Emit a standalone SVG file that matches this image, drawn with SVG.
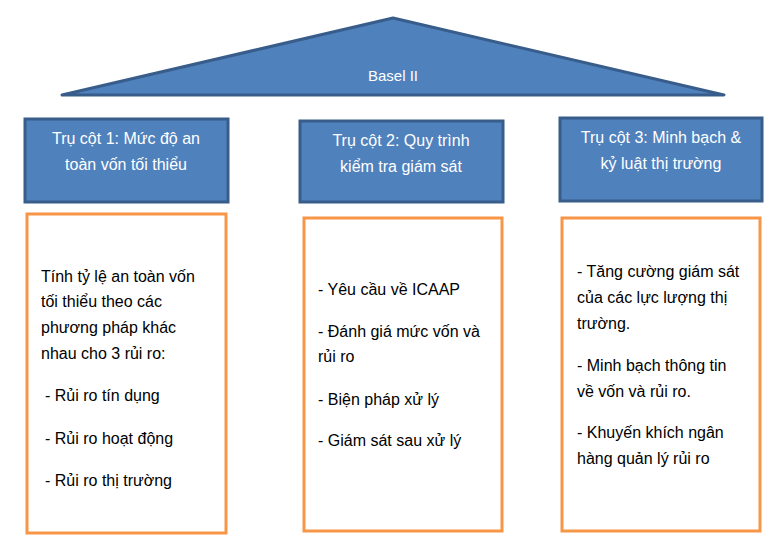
<svg xmlns="http://www.w3.org/2000/svg" width="779" height="552" viewBox="0 0 779 552">
<style>
.roof{fill:#4F81BD;stroke:#385D8A;stroke-width:3;stroke-linejoin:round}
.hdr{fill:#4F81BD;stroke:#385D8A;stroke-width:3}
.box{fill:#FFFFFF;stroke:#F79646;stroke-width:3}
.wt{font-family:"Liberation Sans",Arial,sans-serif;font-size:16px;fill:#FFFFFF;text-anchor:middle}
.bt{font-family:"Liberation Sans",Arial,sans-serif;font-size:16px;fill:#000000}
</style>
<rect width="779" height="552" fill="#FFFFFF"/>
<g id="roof">
<polygon class="roof" points="62,95 393,18 724,95"/>
<text class="wt" x="393" y="81" style="font-size:15px">Basel II</text>
</g>
<g id="connectors"></g>
<g id="pillar1">
<rect class="hdr" x="25" y="119" width="203" height="83"/>
<text class="wt" x="126" y="144">Trụ cột 1: Mức độ an</text>
<text class="wt" x="126" y="170">toàn vốn tối thiểu</text>
</g>
<g id="pillar2">
<rect class="hdr" x="300" y="121" width="203" height="81"/>
<text class="wt" x="401" y="146">Trụ cột 2: Quy trình</text>
<text class="wt" x="401" y="172">kiểm tra giám sát</text>
</g>
<g id="pillar3">
<rect class="hdr" x="560" y="118" width="202" height="83"/>
<text class="wt" x="661" y="143">Trụ cột 3: Minh bạch &amp;</text>
<text class="wt" x="661" y="169">kỷ luật thị trường</text>
</g>
<g id="content1">
<rect class="box" x="27" y="214" width="199" height="319"/>
<text class="bt" x="41" y="282">Tính tỷ lệ an toàn vốn</text>
<text class="bt" x="41" y="307">tối thiểu theo các</text>
<text class="bt" x="41" y="333">phương pháp khác</text>
<text class="bt" x="41" y="359">nhau cho 3 rủi ro:</text>
<text class="bt" x="45" y="401">- Rủi ro tín dụng</text>
<text class="bt" x="45" y="444">- Rủi ro hoạt động</text>
<text class="bt" x="45" y="486">- Rủi ro thị trường</text>
</g>
<g id="content2">
<rect class="box" x="304" y="218" width="198" height="313"/>
<text class="bt" x="318" y="295">- Yêu cầu về ICAAP</text>
<text class="bt" x="318" y="337">- Đánh giá mức vốn và</text>
<text class="bt" x="318" y="362">rủi ro</text>
<text class="bt" x="318" y="405">- Biện pháp xử lý</text>
<text class="bt" x="318" y="446">- Giám sát sau xử lý</text>
</g>
<g id="content3">
<rect class="box" x="562" y="218" width="198" height="313"/>
<text class="bt" x="577" y="277">- Tăng cường giám sát</text>
<text class="bt" x="577" y="303">của các lực lượng thị</text>
<text class="bt" x="577" y="329">trường.</text>
<text class="bt" x="577" y="371">- Minh bạch thông tin</text>
<text class="bt" x="577" y="397">về vốn và rủi ro.</text>
<text class="bt" x="577" y="438">- Khuyến khích ngân</text>
<text class="bt" x="577" y="464">hàng quản lý rủi ro</text>
</g>
</svg>
